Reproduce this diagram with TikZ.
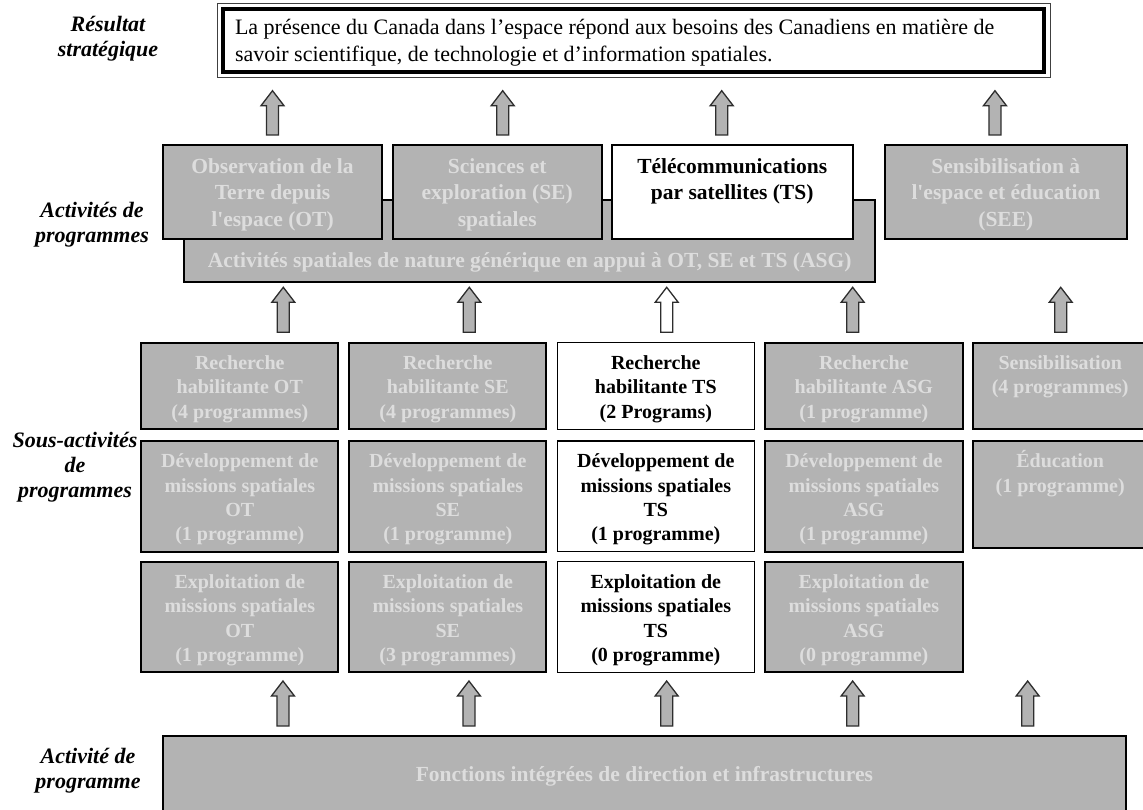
\documentclass[tikz,border=0pt]{standalone}
\usepackage{fontspec}
\setmainfont{Liberation Serif}[Ligatures=TeXOff]
\usetikzlibrary{calc}
\definecolor{boxgray}{RGB}{179,179,179}
\definecolor{txtgray}{RGB}{221,221,221}
\definecolor{edgegray}{RGB}{45,45,45}
\newcommand\TopSz{\fontsize{21.5}{26.7}\selectfont}
\newcommand\GridSz{\fontsize{20}{24.3}\selectfont}
\newcommand\inbox[5]{\parbox[c][#2pt][t]{#1pt}{#3\centering\vspace*{#4pt}\strut #5\par}}
\newcommand\sidetxt[1]{\parbox{150pt}{\fontsize{22}{25}\selectfont\centering\strut #1\par}}
\tikzset{
  every node/.style={inner sep=0pt, outer sep=0pt},
  graybox/.style={draw=black, line width=2pt, fill=boxgray, text=txtgray, font=\bfseries, anchor=north west},
  whitebox/.style={draw=black, line width=1.4pt, fill=white, text=black, font=\bfseries, anchor=north west},
  resbox/.style={draw=black!75, line width=1pt, fill=white, text=black, anchor=north west},
  sidelabel/.style={font=\bfseries\itshape, text=black, anchor=north},
  blockarrow/.style={draw=edgegray, line width=1.3pt, fill=boxgray, line join=miter,
    to path={let \p1=(\tikztostart), \p2=(\tikztotarget) in
      (\x1-6pt,\y1) -- (\x1-6pt,\y2-15pt) -- (\x1-11.5pt,\y2-15pt) -- (\x1,\y2)
      -- (\x1+11.5pt,\y2-15pt) -- (\x1+6pt,\y2-15pt) -- (\x1+6pt,\y1) -- cycle}},
  hollowarrow/.style={blockarrow, fill=white},
}
\begin{document}
\begin{tikzpicture}[x=1pt,y=-1pt]
\useasboundingbox (0,0) rectangle (1143,810);
\clip (0,0) rectangle (1143,810);

% side labels
\node[sidelabel] (lres) at (108,14.2) {\sidetxt{Résultat\\stratégique}};
\node[sidelabel] (lact) at (92,200.5) {\sidetxt{Activités de\\programmes}};
\node[sidelabel] (lsous) at (75,429.5) {\sidetxt{Sous-activités\\de\\programmes}};
\node[sidelabel] (lbase) at (88,745.5) {\sidetxt{Activité de\\programme}};

% strategic outcome
\node[resbox] (res) at (217.3,3.3) {\parbox[c][74.4pt][t]{832.7pt}{\fontsize{22}{27}\selectfont\raggedright\leftskip=17.7pt\vspace*{12.8pt}\strut La présence du Canada dans l’espace répond aux besoins des Canadiens en matière de\\savoir scientifique, de technologie et d’information spatiales.\par}};
\draw[line width=4pt] ([xshift=5.8pt,yshift=-5.8pt]res.north west) rectangle ([xshift=-5.8pt,yshift=5.2pt]res.south east);

% program activities
\node[graybox] (asg) at (184.3,200) {\inbox{690.7}{81.7}{\TopSz}{49}{Activités spatiales de nature générique en appui à OT, SE et TS (ASG)}};
\node[graybox] (ot) at (162.7,145.3) {\inbox{219.6}{94}{\TopSz}{9.3}{Observation de la\\Terre depuis\\l'espace (OT)}};
\node[graybox] (se) at (392.7,145.3) {\inbox{209}{94}{\TopSz}{9.3}{Sciences et\\exploration (SE)\\spatiales}};
\node[whitebox, line width=2pt] (ts) at (611.7,145.3) {\inbox{241}{94}{\TopSz}{9.3}{Télécommunications\\par satellites (TS)}};
\node[graybox] (see) at (885,145.3) {\inbox{241.7}{94}{\TopSz}{9.3}{Sensibilisation à\\l'espace et éducation\\(SEE)}};

% sub-activities row 1
\node[graybox] (r1c1) at (141.3,342.7) {\inbox{197}{86.6}{\GridSz}{9.8}{Recherche\\habilitante OT\\(4 programmes)}};
\node[graybox] (r1c2) at (349.3,342.7) {\inbox{197}{86.6}{\GridSz}{9.8}{Recherche\\habilitante SE\\(4 programmes)}};
\node[whitebox] (r1c3) at (557.3,342.7) {\inbox{197}{86.6}{\GridSz}{9.8}{Recherche\\habilitante TS\\(2 Programs)}};
\node[graybox] (r1c4) at (765,342.7) {\inbox{197.7}{86.6}{\GridSz}{9.8}{Recherche\\habilitante ASG\\(1 programme)}};
\node[graybox] (r1c5) at (972.7,342.7) {\inbox{175}{86.6}{\GridSz}{9.8}{Sensibilisation\\(4 programmes)}};
% row 2
\node[graybox] (r2c1) at (141.3,441) {\inbox{197}{110.7}{\GridSz}{9.8}{Développement de\\missions spatiales\\OT\\(1 programme)}};
\node[graybox] (r2c2) at (349.3,441) {\inbox{197}{110.7}{\GridSz}{9.8}{Développement de\\missions spatiales\\SE\\(1 programme)}};
\node[whitebox] (r2c3) at (557.3,441) {\inbox{197}{110.7}{\GridSz}{9.8}{Développement de\\missions spatiales\\TS\\(1 programme)}};
\node[graybox] (r2c4) at (765,441) {\inbox{197.7}{110.7}{\GridSz}{9.8}{Développement de\\missions spatiales\\ASG\\(1 programme)}};
\node[graybox] (educ) at (972.7,441) {\inbox{175}{106.7}{\GridSz}{9.8}{Éducation\\(1 programme)}};
% row 3
\node[graybox] (r3c1) at (141.3,561.7) {\inbox{197}{110.6}{\GridSz}{9.8}{Exploitation de\\missions spatiales\\OT\\(1 programme)}};
\node[graybox] (r3c2) at (349.3,561.7) {\inbox{197}{110.6}{\GridSz}{9.8}{Exploitation de\\missions spatiales\\SE\\(3 programmes)}};
\node[whitebox] (r3c3) at (557.3,561.7) {\inbox{197}{110.6}{\GridSz}{9.8}{Exploitation de\\missions spatiales\\TS\\(0 programme)}};
\node[graybox] (r3c4) at (765,561.7) {\inbox{197.7}{110.6}{\GridSz}{9.8}{Exploitation de\\missions spatiales\\ASG\\(0 programme)}};

% base program activity
\node[graybox] (base) at (162.7,736) {\inbox{963.3}{90}{\TopSz}{27.3}{Fonctions intégrées de direction et infrastructures}};

% arrows: program activities -> strategic outcome
\draw[blockarrow] ([yshift=10.3pt]ot.north) to ([yshift=-13pt]res.south);
\draw[blockarrow] ([xshift=5.5pt,yshift=10.3pt]se.north) to ([yshift=-13pt]res.south);
\draw[blockarrow] ([xshift=-10.5pt,yshift=10.3pt]ts.north) to ([yshift=-13pt]res.south);
\draw[blockarrow] ([xshift=-10.9pt,yshift=10.3pt]see.north) to ([yshift=-13pt]res.south);

% arrows: sub-activities -> program activities
\draw[blockarrow] ([xshift=43.5pt,yshift=10.4pt]r1c1.north) to ([yshift=-5.6pt]asg.south);
\draw[blockarrow] ([xshift=21.5pt,yshift=10.4pt]r1c2.north) to ([yshift=-5.6pt]asg.south);
\draw[hollowarrow] ([xshift=10.9pt,yshift=10.4pt]r1c3.north) to ([yshift=-5.6pt]asg.south);
\draw[blockarrow] ([xshift=-11.2pt,yshift=10.4pt]r1c4.north) to ([yshift=-5.6pt]asg.south);
\draw[blockarrow] ([xshift=0.5pt,yshift=10.4pt]r1c5.north) to ([yshift=-48pt]see.south);

% arrows: base -> sub-activities
\draw[blockarrow] ([xshift=-361.4pt,yshift=10pt]base.north) to ([yshift=-8.7pt]r3c1.south);
\draw[blockarrow] ([xshift=-175.4pt,yshift=10pt]base.north) to ([yshift=-8.7pt]r3c2.south);
\draw[blockarrow] ([xshift=22.3pt,yshift=10pt]base.north) to ([yshift=-8.7pt]r3c3.south);
\draw[blockarrow] ([xshift=208.3pt,yshift=10pt]base.north) to ([yshift=-8.7pt]r3c4.south);
\draw[blockarrow] ([xshift=383.3pt,yshift=10pt]base.north) to ([yshift=-133.3pt]educ.south);
\end{tikzpicture}
\end{document}
